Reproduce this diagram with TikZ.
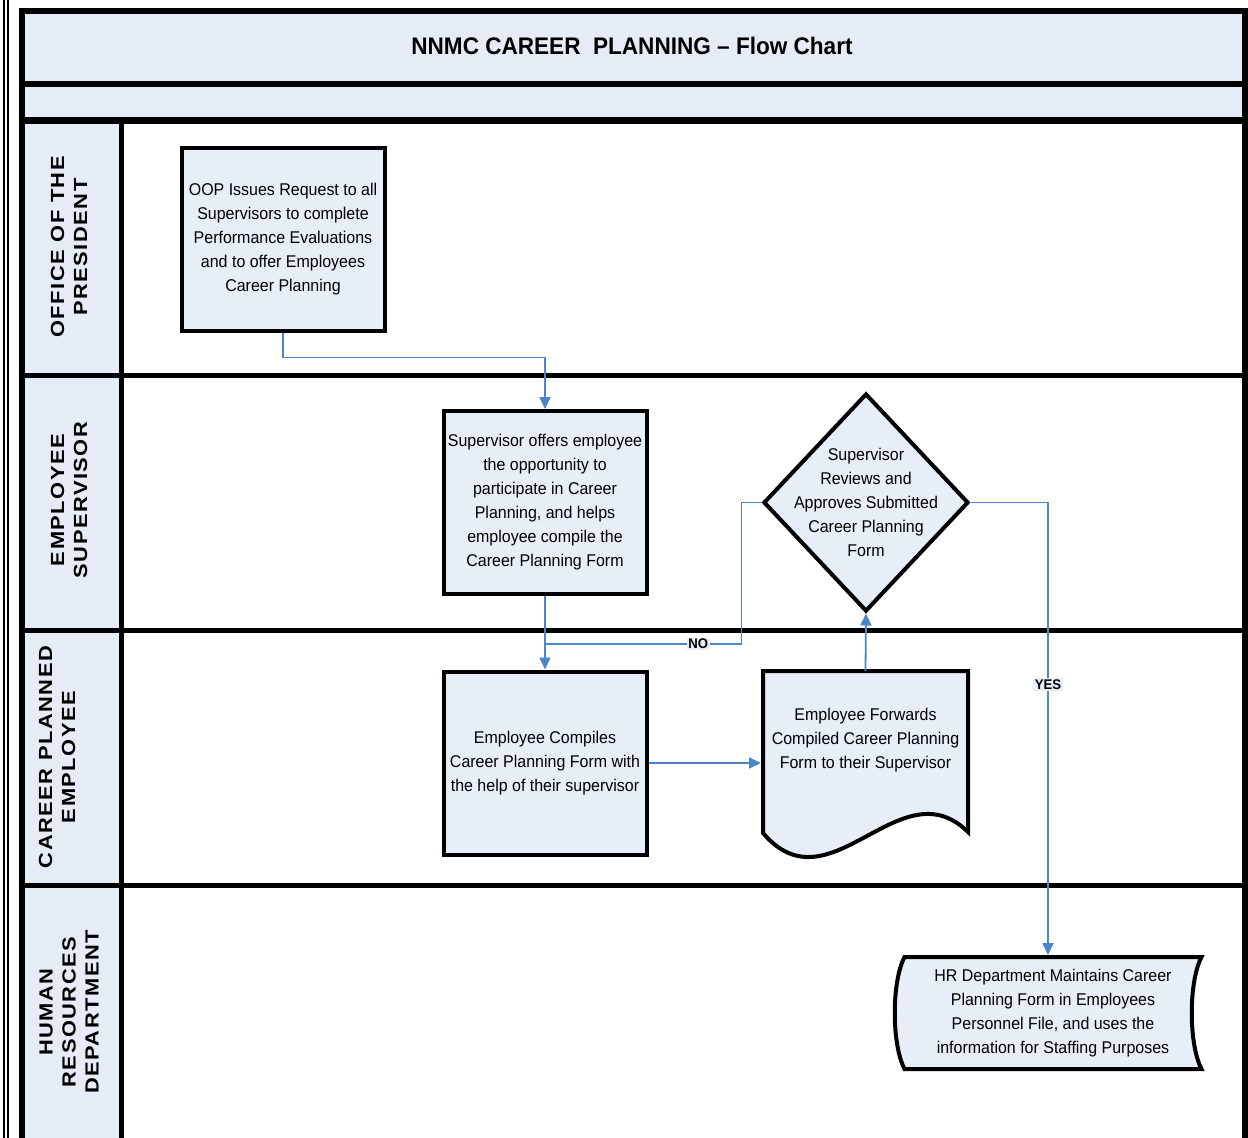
\documentclass[tikz,border=0pt]{standalone}
\usepackage{fontspec}
\setmainfont{Liberation Sans}[FakeStretch=0.94]
\newfontfamily\lanefont{Liberation Sans}[FakeStretch=1.15, LetterSpace=8]
\usepackage{tikz}
\usetikzlibrary{positioning, shapes, arrows.meta, calc, backgrounds}

\definecolor{bandfill}{RGB}{230,236,245}
\definecolor{boxfill}{RGB}{232,238,247}
\definecolor{flowblue}{RGB}{74,134,200}

\begin{document}
\begin{tikzpicture}[x=1pt, y=-1pt, font=\fontsize{17}{24}\selectfont]
% Define block styles
\tikzstyle{process} = [rectangle, draw, line width=4pt, fill=boxfill,
    minimum width=203pt, minimum height=183pt, align=center, inner sep=2pt]
\tikzstyle{decision} = [diamond, draw, line width=4pt, fill=boxfill,
    minimum width=205pt, minimum height=218pt, inner sep=0pt]
\tikzstyle{plain} = [align=center, inner sep=0pt, outer sep=0pt]
\tikzstyle{lane} = [rotate=90, align=center,
    font=\lanefont\bfseries\fontsize{19}{23}\selectfont]
\tikzstyle{outline} = [draw, line width=4pt, fill=boxfill, line join=miter]
\tikzstyle{flow} = [draw=flowblue, line width=1.8pt, -{Triangle[length=12pt,width=11pt]}]
\tikzstyle{answer} = [fill=boxfill, inner sep=1.5pt, font=\bfseries\fontsize{14}{14}\selectfont]
    \useasboundingbox (0,0) rectangle (1248,1138);
    \clip (0,0) rectangle (1248,1138);
    % Swimlane frame
    \fill[bandfill] (21.5,11) rectangle (1245,120);
    \fill[bandfill] (21.5,120) rectangle (121,1150);
    \draw[line width=1.8pt] (3.7,0) -- (3.7,1138) (8.2,0) -- (8.2,1138);
    \draw[line width=6pt, line join=miter] (21.5,1150) -- (21.5,11) -- (1245,11) -- (1245,1150);
    \draw[line width=6pt] (21.5,83.5) -- (1245,83.5);
    \draw[line width=7pt] (21.5,120) -- (1245,120);
    \foreach \y in {375,630,885}
        \draw[line width=5pt] (21.5,\y) -- (1245,\y);
    \draw[line width=5pt] (121,120) -- (121,1150);
    % Title and lane labels
    \node[plain, font=\bfseries\fontsize{24}{28}\selectfont] (title) at (632,46)
        {NNMC CAREER~~PLANNING – Flow Chart};
    \node[lane] (office) at (69,247) {OFFICE OF THE\\PRESIDENT};
    \node[lane] (supervisor) at (69,500) {EMPLOYEE\\SUPERVISOR};
    \node[lane] (employee) at (57,757) {CAREER PLANNED\\EMPLOYEE};
    \node[lane] (hrdept) at (69,1012) {HUMAN\\RESOURCES\\DEPARTMENT};
    % Place nodes
    \node[process] (oop) at (283,239) {OOP Issues Request to all\\Supervisors to complete\\Performance Evaluations\\and to offer Employees\\Career Planning};
    \node[process] (sup) at (545,502.5) {Supervisor offers employee\\the opportunity to\\participate in Career\\Planning, and helps\\employee compile the\\Career Planning Form};
    \node[process, below of=sup, node distance=260.5pt] (comp) {Employee Compiles\\Career Planning Form with\\the help of their supervisor};
    \node[decision, right of=sup, node distance=321pt] (dec) {};
    \node[plain] (dectext) at (dec) {Supervisor\\Reviews and\\Approves Submitted\\Career Planning\\Form};
    \node[plain, minimum width=205pt, minimum height=139pt] (fwd) at (865.5,740.5) {Employee Forwards\\Compiled Career Planning\\Form to their Supervisor};
    \node[plain, minimum width=297pt, minimum height=112pt] (hr) at (1053,1013) {HR Department Maintains Career\\Planning Form in Employees\\Personnel File, and uses the\\information for Staffing Purposes};
    \begin{pgfonlayer}{background}
    \path[outline] (fwd.north west) -- (fwd.north east) -- ($(fwd.south east)+(0,22)$)
        .. controls +(-68,-67) and +(67,79) .. ($(fwd.south west)+(0,23)$) -- cycle;
    \path[outline] (hr.north west) -- (hr.north east)
        .. controls +(-13,25) and +(-13,-25) .. (hr.south east) -- (hr.south west)
        .. controls +(-13,-25) and +(-13,25) .. (hr.north west) -- cycle;
    \end{pgfonlayer}
    % Connectors
    \coordinate (nojoin) at (sup.south |- 0,644);
    \coordinate (hrin) at ($(hr.north)+(-5,0)$);
    \path[flow] (oop.south) -- ++(0,25) -| (sup.north);
    \path[flow] (sup.south) -- (comp.north);
    \path[flow, -] (dec.west) -- ++(-20,0) |- node[answer, pos=0.61] {NO} (nojoin);
    \path[flow, shorten >=2pt] (comp.east) -- (comp.east -| fwd.west);
    \path[flow] (fwd.north) -- (dec.south);
    \path[flow, shorten >=2pt] (dec.east) -| node[answer, pos=0.7] {YES} (hrin);
\end{tikzpicture}
\end{document}
